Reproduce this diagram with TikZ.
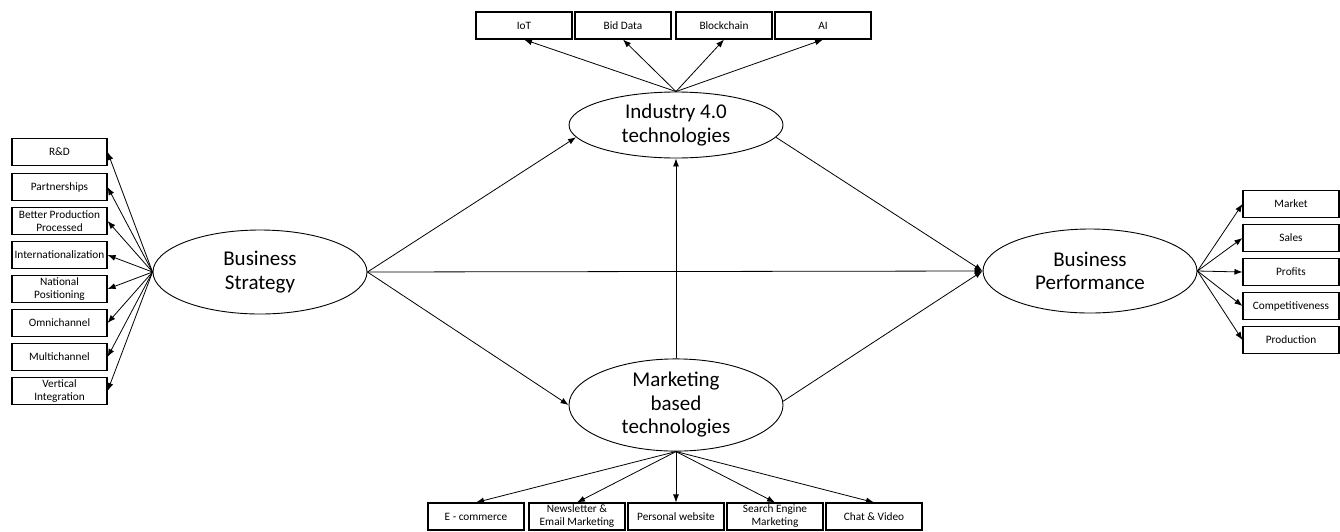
\documentclass[tikz,border=0pt]{standalone}
\usepackage{fontspec}
\setmainfont{Carlito}
\usetikzlibrary{shapes.geometric,arrows.meta}
\begin{document}
\begin{tikzpicture}[x=1pt,y=-1pt,
  box/.style={draw,line width=1.1pt,minimum width=95pt,minimum height=27pt,inner sep=1pt,align=center,font=\fontsize{11.3}{13}\selectfont},
  wbox/.style={box,minimum width=96pt},
  latent/.style={draw,ellipse,line width=0.9pt,minimum width=214pt,minimum height=84pt,inner sep=0pt,align=center,font=\fontsize{21}{23.5}\selectfont},
  arr/.style={line width=0.8pt,-{Latex[length=8pt,width=6pt]}}]
\useasboundingbox (0,0) rectangle (1340,531);
% latent variables
\node[latent] (bs) at (260,272) {Business\\Strategy};
\node[latent] (bp) at (1090,271) {Business\\Performance};
\node[latent,minimum height=66pt] (ind) at (676,125) {Industry 4.0\\technologies};
\node[latent,minimum height=86pt] (mk) at (676,405) {Marketing\\based\\technologies};
% left boxes
\node[box] (b1) at (59.5,152) {R\&D};
\node[box] (b2) at (59.5,187) {Partnerships};
\node[box] (b3) at (59.5,221) {Better Production\\Processed};
\node[box] (b4) at (59.5,255) {Internationalization};
\node[box] (b5) at (59.5,289) {National\\Positioning};
\node[box] (b6) at (59.5,323) {Omnichannel};
\node[box] (b7) at (59.5,357) {Multichannel};
\node[box] (b8) at (59.5,391) {Vertical\\Integration};
% right boxes
\node[wbox] (r1) at (1291,204) {Market};
\node[wbox] (r2) at (1291,238) {Sales};
\node[wbox] (r3) at (1291,272) {Profits};
\node[wbox] (r4) at (1291,306) {Competitiveness};
\node[wbox] (r5) at (1291,340) {Production};
% top boxes
\node[wbox] (t1) at (524,25.5) {IoT};
\node[wbox] (t2) at (623,25.5) {Bid Data};
\node[wbox] (t3) at (724,25.5) {Blockchain};
\node[wbox] (t4) at (823,25.5) {AI};
% bottom boxes
\node[wbox] (m1) at (476,516.5) {E - commerce};
\node[wbox] (m2) at (577,516.5) {Newsletter \&\\Email Marketing};
\node[wbox] (m3) at (676,516.5) {Personal website};
\node[wbox] (m4) at (775,516.5) {Search Engine\\Marketing};
\node[wbox] (m5) at (874,516.5) {Chat \& Video};
% left indicators
\foreach \b in {b1,b2,b3,b4,b5,b6,b7,b8}
  \draw[arr] (bs.west) -- (\b.east);
% right indicators
\foreach \b in {r1,r2,r3,r4,r5}
  \draw[arr] (bp.east) -- (\b.west);
% top indicators
\foreach \b in {t1,t2,t3,t4}
  \draw[arr] (ind.north) -- (\b.south);
% bottom indicators
\foreach \b in {m1,m2,m3,m4,m5}
  \draw[arr] (mk.south) -- (\b.north);
% structural paths
\draw[arr] (bs.east) -- (ind.187);
\draw[arr] (bs.east) -- (mk.west);
\draw[arr] (bs.east) -- (bp.west);
\draw[arr] (ind.353) -- (bp.west);
\draw[arr] (mk.2) -- (bp.west);
\draw[arr] (mk.north) -- (ind.south);
\end{tikzpicture}
\end{document}
